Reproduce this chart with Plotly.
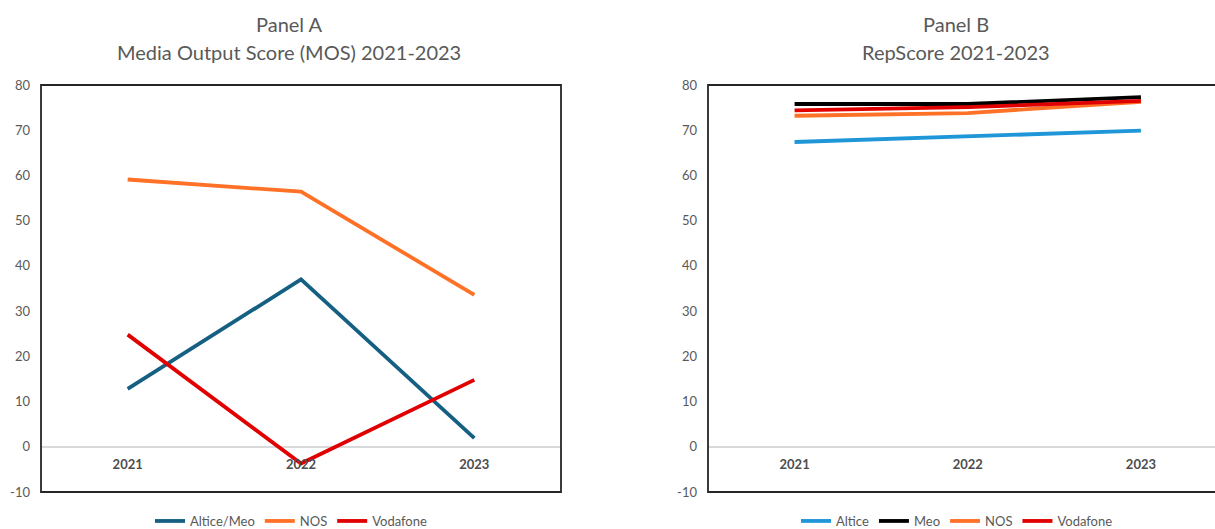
import plotly.graph_objects as go

years = ["2021", "2022", "2023"]

# Panel A - Media Output Score
mos_altice_meo = [12.8, 37.0, 1.9]
mos_nos = [59.1, 56.4, 33.6]
mos_vodafone = [24.8, -3.7, 14.8]

# Panel B - RepScore
rep_altice = [67.4, 68.6, 69.9]
rep_meo = [75.8, 75.8, 77.3]
rep_nos = [73.2, 73.8, 76.3]
rep_vodafone = [74.4, 75.1, 76.5]

yticks = [-10, 0, 10, 20, 30, 40, 50, 60, 70, 80]
ytick_labels = [str(v) for v in yticks]

W, H = 1215, 529
T, B = 85, 37
FONT = "Lato"
GREY = "#595959"

fig = go.Figure()

def add(x_axis, y_axis, y, name, color, legend):
    fig.add_trace(go.Scatter(
        x=[0, 1, 2], y=y, name=name, mode="lines",
        line=dict(color=color, width=3.8),
        xaxis=x_axis, yaxis=y_axis, legend=legend,
    ))

add("x", "y", mos_altice_meo, "Altice/Meo", "#156082", "legend")
add("x", "y", mos_nos, "NOS", "#FF7127", "legend")
add("x", "y", mos_vodafone, "Vodafone", "#E00000", "legend")

add("x2", "y2", rep_altice, "Altice", "#1E96D8", "legend2")
add("x2", "y2", rep_meo, "Meo", "#000000", "legend2")
add("x2", "y2", rep_nos, "NOS", "#FF7127", "legend2")
add("x2", "y2", rep_vodafone, "Vodafone", "#E00000", "legend2")

zero_pos = 10 / 90.0

xa_common = dict(
    tickmode="array", tickvals=[0, 1, 2], ticktext=years,
    showgrid=False, zeroline=False, showline=False,
    anchor="free", position=zero_pos,
    tickfont=dict(family=FONT, size=13, color="#4D4D4D", weight="bold"),
    ticks="", ticklabelstandoff=8,
)
ya_common = dict(
    range=[-10, 80], tickmode="array", tickvals=yticks, ticktext=ytick_labels,
    showgrid=False,
    zeroline=True, zerolinecolor="#D9D9D9", zerolinewidth=1.5,
    showline=False, ticks="",
    tickfont=dict(family=FONT, size=13, color=GREY),
    ticklabelstandoff=10,
)

legend_common = dict(
    orientation="h", y=(492 - 521) / 407, yanchor="middle",
    font=dict(family=FONT, size=13, color=GREY),
    itemwidth=30, bgcolor="rgba(0,0,0,0)",
)

fig.update_layout(
    width=W, height=H,
    margin=dict(l=0, r=0, t=T, b=B, autoexpand=False),
    paper_bgcolor="white", plot_bgcolor="white",
    showlegend=True,
    xaxis=dict(domain=[41 / W, 561 / W], range=[-0.5, 2.5], **xa_common),
    yaxis=dict(anchor="x", **ya_common),
    xaxis2=dict(domain=[708 / W, 1.0], range=[-0.5, 2.5 - 12.5 / 173], **xa_common),
    yaxis2=dict(anchor="x2", **ya_common),
    legend=dict(x=291 / W, xanchor="center", **legend_common),
    legend2=dict(x=957 / W, xanchor="center", **legend_common),
    shapes=[
        dict(type="rect", xref="x domain", yref="y domain", x0=0, x1=1, y0=0, y1=1,
             line=dict(color="#262626", width=1.8), layer="above"),
        dict(type="rect", xref="x2 domain", yref="y2 domain", x0=0, x1=1.1, y0=0, y1=1,
             line=dict(color="#262626", width=1.8), layer="above"),
    ],
)

def title(x_px, lines):
    ys = [24, 52]
    for text, yp in zip(lines, ys):
        fig.add_annotation(
            text=text, xref="paper", yref="paper",
            x=x_px / W, y=(492 - yp) / 407, xanchor="center", yanchor="middle",
            showarrow=False, font=dict(family=FONT, size=20, color=GREY),
        )

title(289, ["Panel A", "Media Output Score (MOS) 2021-2023"])
title(956, ["Panel B", "RepScore 2021-2023"])

fig.write_html("out.html")
